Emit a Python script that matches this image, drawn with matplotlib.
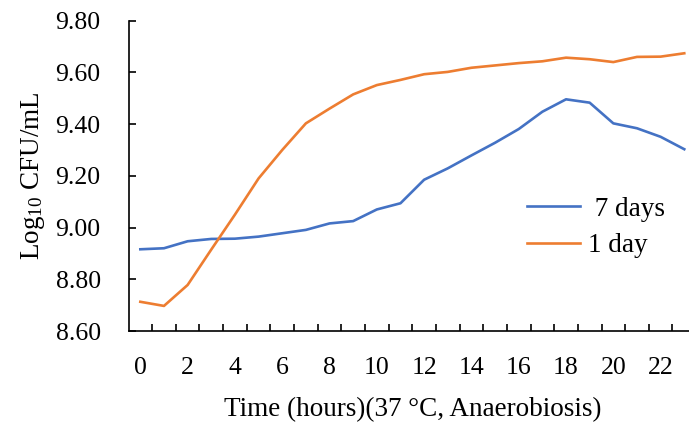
import numpy as np
import matplotlib
matplotlib.use("Agg")
import matplotlib.pyplot as plt

plt.rcParams['font.family'] = ['Liberation Serif', 'DejaVu Serif']
plt.rcParams['mathtext.default'] = 'regular'

# hours 0..23
hours = list(range(24))
seven_days = [8.916, 8.920, 8.947, 8.956, 8.957, 8.965, 8.978, 8.991, 9.016, 9.025,
              9.070, 9.094, 9.185, 9.229, 9.279, 9.328, 9.381, 9.448, 9.496, 9.483,
              9.403, 9.384, 9.351, 9.303]
one_day = [8.713, 8.697, 8.778, 8.915, 9.050, 9.190, 9.300, 9.403, 9.460, 9.515,
           9.551, 9.571, 9.593, 9.602, 9.618, 9.627, 9.636, 9.643, 9.657, 9.651,
           9.640, 9.660, 9.661, 9.674]
yticks = [8.60, 8.80, 9.00, 9.20, 9.40, 9.60, 9.80]

fig = plt.figure(figsize=(6.89, 4.26), dpi=100)
W, H = 689, 426
ax = fig.add_axes([128.5 / W, (H - 331) / H, 24 * 23.65 / W, (331 - 20.7) / H])

ax.plot(hours, seven_days, color='#4472C4', lw=1.9, label=' 7 days')
ax.plot(hours, one_day, color='#ED7D31', lw=1.9, label='1 day')

ax.set_xlim(-0.5, 23.5)
ax.set_ylim(8.6, 9.8)

ax.spines['top'].set_visible(False)
ax.spines['right'].set_visible(False)
for s in ['left', 'bottom']:
    ax.spines[s].set_linewidth(1.2)
    ax.spines[s].set_color('black')

ax.set_xticks(range(0, 24, 2))
ax.set_xticks(np.arange(0.5, 23.5, 1), minor=True)
ax.tick_params(axis='x', which='major', length=0, pad=19, labelsize=18.5)
ax.tick_params(axis='x', which='minor', length=5, width=1.2, direction='in')

ax.set_yticks(yticks)
ax.set_yticklabels([f'{v:.2f}' for v in yticks])
ax.tick_params(axis='y', length=5, width=1.2, direction='in', pad=20, labelsize=18.5)

ax.set_xlabel('Time (hours)(37 °C, Anaerobiosis)', fontsize=19.5, labelpad=13)
ax.set_ylabel(r'Log$_{10}$ CFU/mL', fontsize=19.5, labelpad=6)

ax.legend(loc='upper left', bbox_to_anchor=(516 / W, (H - 186) / H),
          bbox_transform=fig.transFigure, frameon=False, fontsize=19.5,
          handlelength=1.95, handletextpad=0.3, labelspacing=0.42, borderaxespad=0)

fig.savefig('out.png', dpi=100)
